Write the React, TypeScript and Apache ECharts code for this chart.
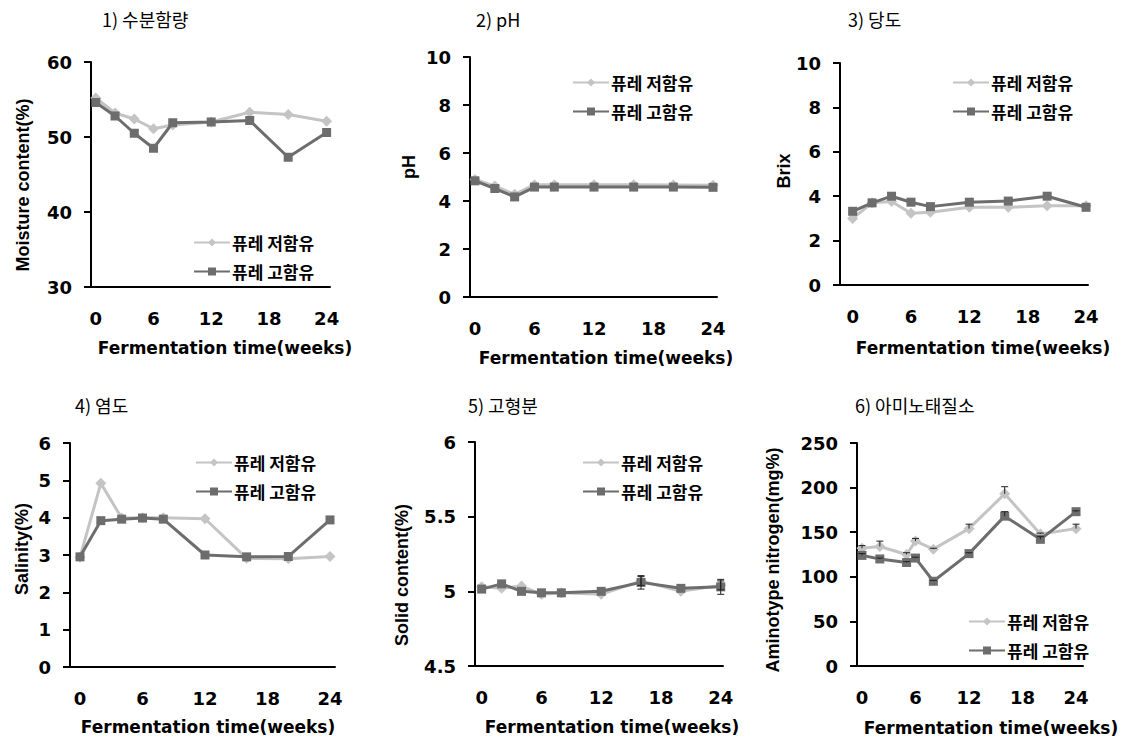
import React, { useEffect, useRef } from "react";
import * as echarts from "echarts";

const SERIES_LOW = "퓨레 저함유";
const SERIES_HIGH = "퓨레 고함유";

const weeks = [0, 2, 4, 6, 8, 12, 16, 20, 24];
const weeksAmino = [0, 2, 5, 6, 8, 12, 16, 20, 24];
const xTickLabels = [0, 6, 12, 18, 24];

const moistureLow = [55.2, 53.2, 52.4, 51.1, 51.6, 52.0, 53.3, 53.0, 52.1];
const moistureHigh = [54.6, 52.8, 50.5, 48.5, 51.9, 52.0, 52.2, 47.3, 50.6];

const pHLow = [4.9, 4.62, 4.28, 4.68, 4.68, 4.68, 4.68, 4.67, 4.66];
const pHHigh = [4.84, 4.52, 4.17, 4.58, 4.58, 4.58, 4.58, 4.58, 4.57];

const brixLow = [3.0, 3.7, 3.76, 3.23, 3.28, 3.5, 3.5, 3.57, 3.57];
const brixHigh = [3.32, 3.7, 4.0, 3.73, 3.53, 3.73, 3.78, 4.0, 3.5];

const salinityLow = [2.94, 4.92, 3.99, 4.0, 4.0, 3.97, 2.91, 2.9, 2.96];
const salinityHigh = [2.95, 3.92, 3.96, 3.99, 3.96, 3.0, 2.95, 2.96, 3.94];

const solidLow = [5.03, 5.02, 5.035, 4.98, 4.99, 4.98, 5.07, 5.0, 5.04];
const solidHigh = [5.015, 5.05, 5.0, 4.99, 4.99, 5.0, 5.06, 5.02, 5.03];
const solidLowErr = [0, 0, 0, 0, 0, 0, 0.03, 0, 0.03];
const solidHighErr = [0, 0, 0, 0, 0, 0, 0.045, 0, 0.05];

const aminoLow = [132, 134, 125, 140, 131, 154, 193, 148, 154];
const aminoHigh = [124, 120, 116, 121, 95, 126, 168, 142, 173];
const aminoLowErr = [3, 6, 2, 3, 1, 5, 8, 1, 5];
const aminoHighErr = [2, 1, 1, 1, 1, 1, 5, 3, 1];

const panelTitles = ["1) 수분함량", "2) pH", "3) 당도", "4) 염도", "5) 고형분", "6) 아미노태질소"];
const yTitles = ["Moisture content(%)", "pH", "Brix", "Salinity(%)", "Solid content(%)", "Aminotype nitrogen(mg%)"];
const xTitle = "Fermentation time(weeks)";

const LIGHT = "#c4c4c4";
const DARK = "#6d6d6d";
const TICK_FONT = "DejaVu Sans";
const KR_FONT = "Noto Sans CJK KR";

type Panel = {
  left: number; top: number; width: number; height: number;
  xmin: number; xmax: number;
  ymin: number; ymax: number; yint: number;
  x: number[]; low: number[]; high: number[];
  lowErr?: number[]; highErr?: number[]; errMode?: "plus" | "both";
  legend: [number, number];
  title: [number, number];
  xTitlePos: [number, number];
  yTitlePos: [number, number];
};

const panels: Panel[] = [
  { left: 91, top: 62, width: 239, height: 225, xmin: -0.5, xmax: 24.35, ymin: 30, ymax: 60, yint: 10,
    x: weeks, low: moistureLow, high: moistureHigh, legend: [193, 243], title: [102, 19], xTitlePos: [225, 348], yTitlePos: [23, 185] },
  { left: 470, top: 57, width: 247, height: 240, xmin: -0.5, xmax: 24.4, ymin: 0, ymax: 10, yint: 2,
    x: weeks, low: pHLow, high: pHHigh, legend: [572, 83], title: [476, 19], xTitlePos: [606, 358], yTitlePos: [409, 167] },
  { left: 840, top: 63, width: 248, height: 222, xmin: -1.3, xmax: 24.2, ymin: 0, ymax: 10, yint: 2,
    x: weeks, low: brixLow, high: brixHigh, legend: [952, 83], title: [848, 19], xTitlePos: [983, 348], yTitlePos: [784, 171] },
  { left: 70, top: 443, width: 265, height: 224, xmin: -0.96, xmax: 24.48, ymin: 0, ymax: 6, yint: 1,
    x: weeks, low: salinityLow, high: salinityHigh, legend: [195, 463], title: [75, 405], xTitlePos: [208, 727], yTitlePos: [22, 549] },
  { left: 475, top: 442, width: 248, height: 224, xmin: -0.67, xmax: 24.23, ymin: 4.5, ymax: 6, yint: 0.5,
    x: weeks, low: solidLow, high: solidHigh, lowErr: solidLowErr, highErr: solidHighErr, errMode: "both",
    legend: [582, 463], title: [468, 405], xTitlePos: [612, 727], yTitlePos: [402, 575] },
  { left: 857, top: 443, width: 226, height: 223, xmin: -0.56, xmax: 24.78, ymin: 0, ymax: 250, yint: 50,
    x: weeksAmino, low: aminoLow, high: aminoHigh, lowErr: aminoLowErr, highErr: aminoHighErr, errMode: "plus",
    legend: [968, 622], title: [855, 405], xTitlePos: [991, 728], yTitlePos: [773, 560] },
];

function errorSeries(i: number, xs: number[], ys: number[], errs: number[], mode: string) {
  return {
    type: "custom",
    xAxisIndex: i,
    yAxisIndex: i,
    z: 5,
    silent: true,
    data: xs.map((w, j) => [w, ys[j], errs[j]]),
    renderItem: (params: any, api: any) => {
      const x = api.value(0);
      const y = api.value(1);
      const e = api.value(2);
      if (!e) return { type: "group", children: [] };
      const top = api.coord([x, y + e]);
      const bot = api.coord([x, mode === "both" ? y - e : y]);
      const style = { stroke: "#222", lineWidth: 1 };
      const children: any[] = [
        { type: "line", shape: { x1: top[0], y1: top[1], x2: bot[0], y2: bot[1] }, style },
        { type: "line", shape: { x1: top[0] - 3.5, y1: top[1], x2: top[0] + 3.5, y2: top[1] }, style },
      ];
      if (mode === "both") {
        children.push({ type: "line", shape: { x1: bot[0] - 3.5, y1: bot[1], x2: bot[0] + 3.5, y2: bot[1] }, style });
      }
      return { type: "group", children };
    },
  };
}

export default function App() {
  const ref = useRef<HTMLDivElement>(null);
  useEffect(() => {
    if (!ref.current) return;
    const chart = echarts.init(ref.current, null, { renderer: "svg" });
    const labelStyle = { fontFamily: TICK_FONT, fontWeight: "bold", fontSize: 18, color: "#000" };
    const series: any[] = [];
    panels.forEach((p, i) => {
      series.push({
        type: "line", name: SERIES_LOW, xAxisIndex: i, yAxisIndex: i,
        data: p.x.map((w, j) => [w, p.low[j]]),
        symbol: "diamond", symbolSize: 11, z: 2,
        lineStyle: { color: LIGHT, width: 3 }, itemStyle: { color: LIGHT },
      });
      series.push({
        type: "line", name: SERIES_HIGH, xAxisIndex: i, yAxisIndex: i,
        data: p.x.map((w, j) => [w, p.high[j]]),
        symbol: "rect", symbolSize: 9, z: 3,
        lineStyle: { color: DARK, width: 3 }, itemStyle: { color: DARK },
      });
      if (p.lowErr && p.highErr && p.errMode) {
        series.push(errorSeries(i, p.x, p.low, p.lowErr, p.errMode));
        series.push(errorSeries(i, p.x, p.high, p.highErr, p.errMode));
      }
    });

    const graphic: any[] = [];
    panels.forEach((p, i) => {
      graphic.push({
        type: "text", x: p.title[0], y: p.title[1],
        style: { text: panelTitles[i], fontFamily: KR_FONT, fontSize: 18, fill: "#000", textAlign: "left", textVerticalAlign: "middle" },
      });
      graphic.push({
        type: "text", x: p.xTitlePos[0], y: p.xTitlePos[1],
        style: { text: xTitle, fontFamily: TICK_FONT, fontWeight: "bold", fontSize: 17, fill: "#000", textAlign: "center", textVerticalAlign: "middle" },
      });
      graphic.push({
        type: "text", x: p.yTitlePos[0], y: p.yTitlePos[1], rotation: Math.PI / 2,
        style: { text: yTitles[i], fontFamily: "Liberation Sans", fontWeight: "bold", fontSize: 18, fill: "#000", textAlign: "center", textVerticalAlign: "middle" },
      });
    });

    const option: any = {
      animation: false,
      backgroundColor: "#fff",
      grid: panels.map((p) => ({ left: p.left, top: p.top, width: p.width, height: p.height })),
      xAxis: panels.map((p, i) => ({
        type: "value", gridIndex: i, min: p.xmin, max: p.xmax,
        axisLine: { show: true, onZero: false, lineStyle: { color: "#000", width: 2 } },
        axisTick: { show: false },
        splitLine: { show: false },
        axisLabel: { customValues: xTickLabels, margin: 22, ...labelStyle },
      })),
      yAxis: panels.map((p, i) => ({
        type: "value", gridIndex: i, min: p.ymin, max: p.ymax, interval: p.yint,
        axisLine: { show: true, onZero: false, lineStyle: { color: "#000", width: 2 } },
        axisTick: { show: true, inside: false, length: 7, lineStyle: { color: "#000", width: 2 } },
        splitLine: { show: false },
        axisLabel: { margin: 19, ...labelStyle },
      })),
      legend: panels.map((p) => ({
        orient: "vertical", left: p.legend[0], top: p.legend[1] - 9,
        itemWidth: 36, itemHeight: 10, itemGap: 12, padding: 0,
        data: [SERIES_LOW, SERIES_HIGH],
        textStyle: { fontFamily: KR_FONT, fontWeight: "bold", fontSize: 17, color: "#000", padding: [0, 0, 0, -3] },
      })),
      series,
      graphic,
    };
    chart.setOption(option);
    return () => chart.dispose();
  }, []);
  return <div ref={ref} style={{ position: "absolute", left: 0, top: 0, width: 1123, height: 739 }} />;
}
